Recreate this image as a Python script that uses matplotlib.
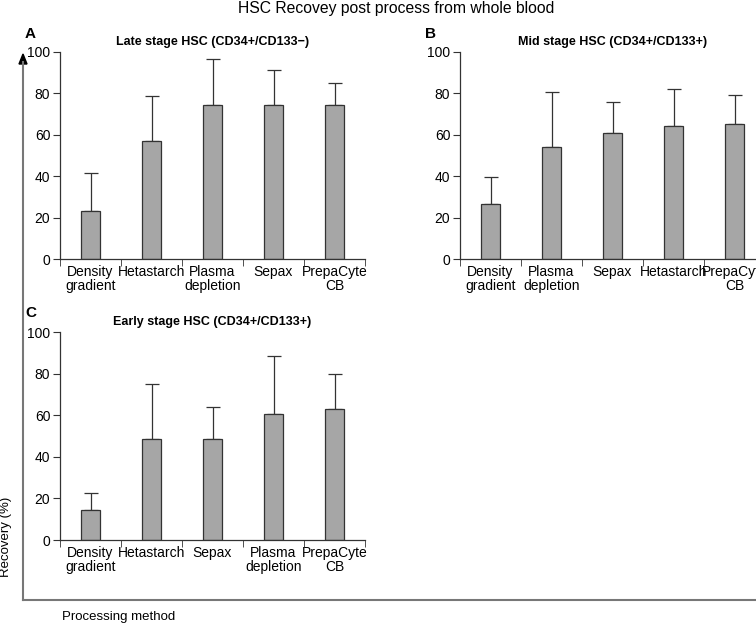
import numpy as np
import matplotlib
matplotlib.use('Agg')
import matplotlib.pyplot as plt
from matplotlib.lines import Line2D

plt.rcParams['font.family'] = ['Liberation Sans', 'DejaVu Sans']

# パネルごとのデータ
late_labels = ['Density\ngradient', 'Hetastarch', 'Plasma\ndepletion', 'Sepax', 'PrepaCyte\nCB']
late_vals = [23.3, 57.0, 74.3, 74.3, 74.3]
late_err = [18.3, 21.7, 22.1, 16.7, 10.5]

mid_labels = ['Density\ngradient', 'Plasma\ndepletion', 'Sepax', 'Hetastarch', 'PrepaCyte\nCB']
mid_vals = [26.5, 54.1, 60.8, 64.2, 65.3]
mid_err = [13.1, 26.5, 15.1, 18.0, 14.0]

early_labels = ['Density\ngradient', 'Hetastarch', 'Sepax', 'Plasma\ndepletion', 'PrepaCyte\nCB']
early_vals = [14.6, 48.6, 48.6, 60.5, 62.9]
early_err = [7.9, 26.4, 15.4, 28.1, 16.9]

y_ticks = [0, 20, 40, 60, 80, 100]

W, H = 756, 625
fig = plt.figure(figsize=(W / 100, H / 100), dpi=100)


def px_rect(left, top, right, bottom):
    return [left / W, 1 - bottom / H, (right - left) / W, (bottom - top) / H]


def draw_panel(rect, labels, vals, err, title):
    ax = fig.add_axes(rect)
    x = np.arange(len(vals))
    ax.bar(x, vals, width=0.3, color='#a6a6a6', edgecolor='#333333', linewidth=0.9, zorder=2)
    ax.errorbar(x, vals, yerr=[np.zeros(len(err)), err], fmt='none',
                ecolor='#333333', elinewidth=0.9, capsize=5, capthick=0.9, zorder=1)
    ax.set_xlim(-0.5, len(vals) - 0.5)
    ax.set_ylim(0, 100)
    ax.set_yticks(y_ticks)
    ax.set_xticks(x)
    ax.set_xticklabels(labels, fontsize=10, linespacing=1.0)
    ax.set_xticks(np.arange(len(vals) + 1) - 0.5, minor=True)
    ax.tick_params(axis='x', which='major', length=0, pad=4)
    ax.tick_params(axis='x', which='minor', length=5, direction='out', color='#333333')
    ax.tick_params(axis='y', length=5, direction='out', labelsize=10, pad=2, color='#333333')
    for s in ['top', 'right']:
        ax.spines[s].set_visible(False)
    for s in ['left', 'bottom']:
        ax.spines[s].set_color('#333333')
        ax.spines[s].set_linewidth(0.9)
    ax.set_title(title, fontsize=9, fontweight='bold', pad=5)
    return ax


draw_panel(px_rect(60, 51.7, 365, 259.3), late_labels, late_vals, late_err,
           'Late stage HSC (CD34+/CD133\u2212)')
draw_panel(px_rect(460, 51.7, 765, 259.3), mid_labels, mid_vals, mid_err,
           'Mid stage HSC (CD34+/CD133+)')
draw_panel(px_rect(60, 332.3, 365, 540), early_labels, early_vals, early_err,
           'Early stage HSC (CD34+/CD133+)')

# 外枠(矢印付き軸)
gray = '#777777'
fig.add_artist(Line2D([23 / W, 23 / W], [1 - 600 / H, 1 - 62 / H], color=gray, lw=1.5))
fig.add_artist(Line2D([23 / W, 1.0], [1 - 600 / H, 1 - 600 / H], color=gray, lw=1.5))
fig.patches.append(plt.Polygon([[19 / W, 1 - 64 / H], [27 / W, 1 - 64 / H], [23 / W, 1 - 54 / H]],
                               closed=True, color='black', transform=fig.transFigure, figure=fig))

# テキスト
fig.text(396 / W, 1 - 9 / H, 'HSC Recovey post process from whole blood', ha='center', va='center', fontsize=11.3)
fig.text(30 / W, 1 - 34 / H, 'A', ha='center', va='center', fontsize=11, fontweight='bold')
fig.text(430 / W, 1 - 34 / H, 'B', ha='center', va='center', fontsize=11, fontweight='bold')
fig.text(31 / W, 1 - 313 / H, 'C', ha='center', va='center', fontsize=11, fontweight='bold')
fig.text(6 / W, 1 - 537 / H, 'Recovery (%)', ha='center', va='center', rotation=90, fontsize=9.5)
fig.text(62 / W, 1 - 617 / H, 'Processing method', ha='left', va='center', fontsize=9.5)

fig.savefig('out.png', dpi=100)
